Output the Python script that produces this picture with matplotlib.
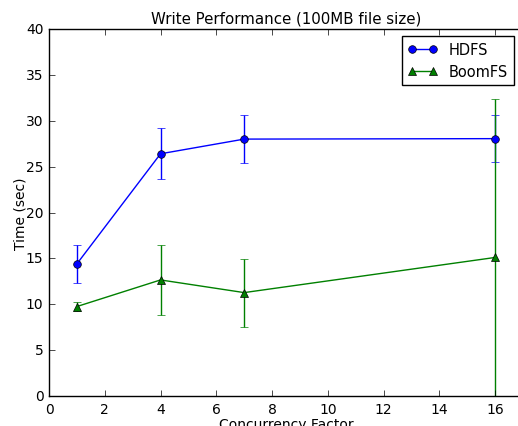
import matplotlib
matplotlib.use("Agg")
import matplotlib.pyplot as plt

plt.style.use('classic')
plt.rcParams['font.size'] = 10

x = [1, 4, 7, 16]
hdfs = [14.4, 26.4, 28.0, 28.05]
hdfs_err = [2.1, 2.8, 2.6, 2.6]
boom = [9.75, 12.65, 11.27, 15.1]
boom_err = [0.5, 3.8, 3.7, 17.3]

fig = plt.figure(figsize=(5.18, 4.27), dpi=100)
ax = fig.add_axes([49/518, 30/427, 474/518, 367/427])
l1 = ax.errorbar(x, hdfs, yerr=hdfs_err, color='b', marker='o', markersize=5.5, label='HDFS')
l2 = ax.errorbar(x, boom, yerr=boom_err, color='g', marker='^', markersize=5.5, label='BoomFS')
ax.set_xlim(0, 17)
ax.set_ylim(0, 40)
ax.set_xlabel('Concurrency Factor', fontsize=10, labelpad=1)
ax.set_ylabel('Time (sec)', fontsize=10, labelpad=-1)
ax.set_title('Write Performance (100MB file size)', fontsize=10.8)
ax.tick_params(labelsize=10)
ax.tick_params(right=False)
ax.legend([l1.lines[0], l2.lines[0]], ['HDFS', 'BoomFS'], loc='upper right',
          bbox_to_anchor=(514/518, 390/427), bbox_transform=fig.transFigure,
          borderaxespad=0, fontsize=10.5, numpoints=2)
fig.savefig('out.png', dpi=100)
